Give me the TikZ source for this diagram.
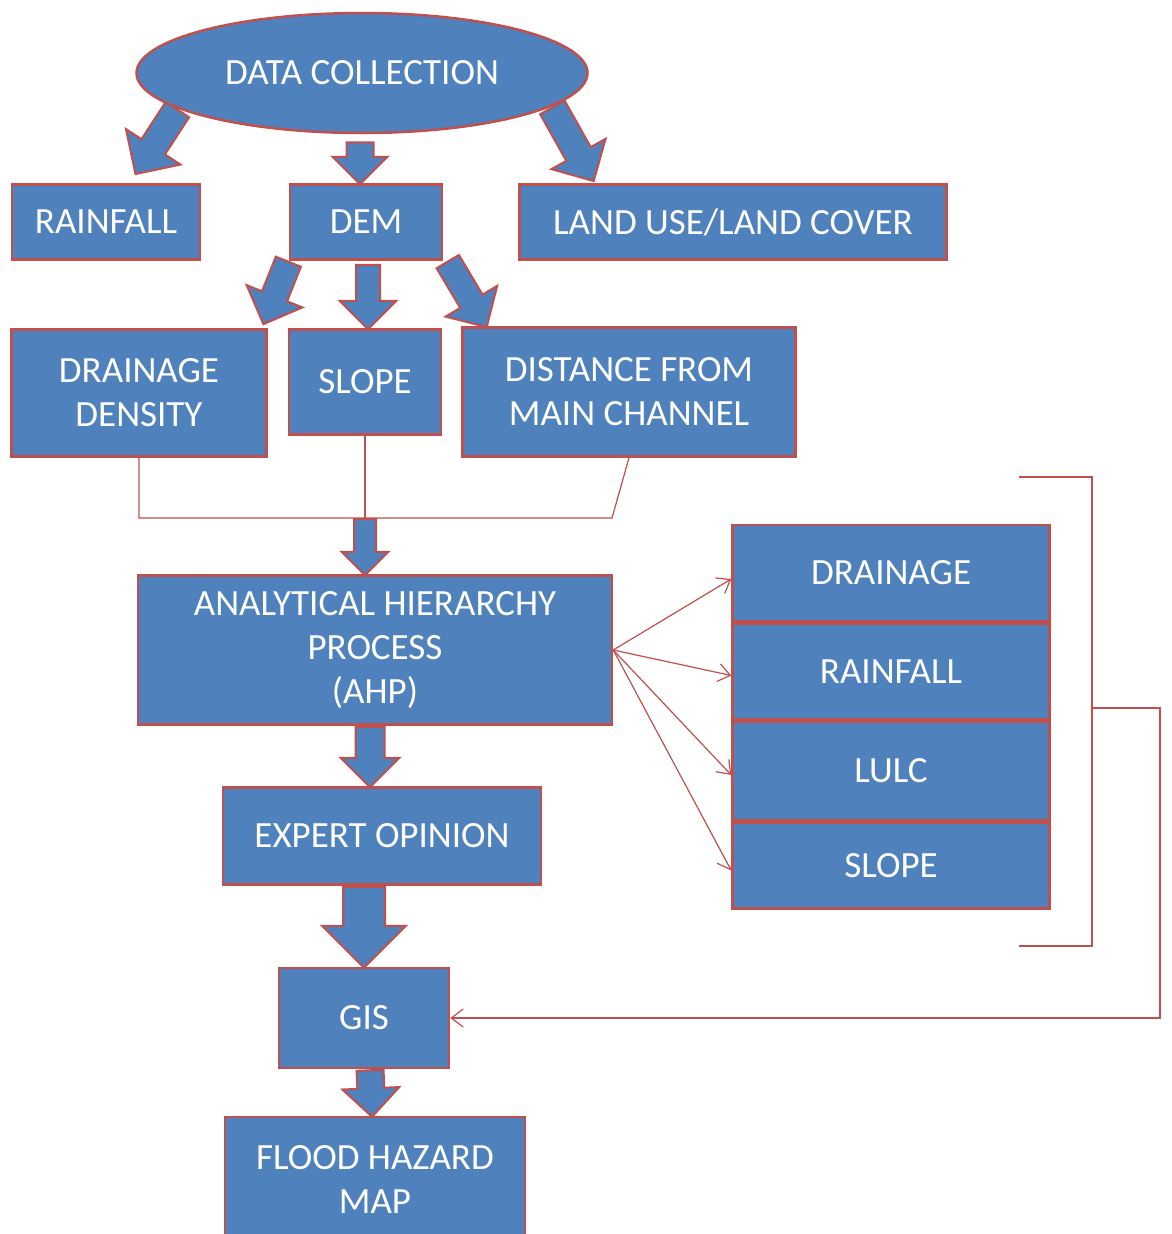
\documentclass[tikz,border=0pt]{standalone}
\usepackage{fontspec}
\setmainfont{Carlito}
\usepackage{tikz}
\usetikzlibrary{positioning, calc, arrows.meta, shapes.geometric, shapes.arrows}
\definecolor{boxblue}{HTML}{4F81BD}
\definecolor{edgered}{HTML}{C0504D}

% fat arrow: from, to, shaft width, head width
\newcommand{\fatarrow}[4]{%
	\pgfmathsetmacro{\halfshaft}{#3/2}%
	\pgfmathsetmacro{\headext}{(#4-#3)/2}%
	\path let \p1=#1, \p2=#2, \n1={atan2(\y2-\y1,\x2-\x1)}, \n2={veclen(\x2-\x1,\y2-\y1)} in
		node[blockarrow, rotate=\n1, minimum height=\n2, inner ysep=\halfshaft pt, single arrow head extend=\headext pt] at (\p1) {};%
}

\begin{document}
\begin{tikzpicture}[x=1pt, y=-1pt,
		box/.style={rectangle, draw=edgered, fill=boxblue, line width=2.5pt, text=white, align=center, inner sep=0pt, font=\fontsize{37}{44}\selectfont},
		blockarrow/.style={single arrow, draw=edgered, fill=boxblue, line width=2pt, inner xsep=0pt, minimum width=0pt, single arrow head indent=0pt, anchor=tail},
		link/.style={draw=edgered, line width=1.2pt},
		>={Straight Barb[length=12pt, width=18pt]}]
		\path[use as bounding box, fill=white] (0,0) rectangle (1171,1234);

		\node[box, ellipse, minimum width=451, minimum height=120]   (data)   at (362,73)   {DATA COLLECTION};
		\node[box, minimum width=188, minimum height=75]             (rain)   at (106,222)  {RAINFALL};
		\node[box, minimum width=152, minimum height=75]             (dem)    at (366,222)  {DEM};
		\node[box, minimum width=427, minimum height=75]             (lulc)   at (733,222)  {LAND USE/LAND COVER};
		\node[box, minimum width=255, minimum height=127]            (dd)     at (139,393)  {DRAINAGE\\DENSITY};
		\node[box, minimum width=152, minimum height=105]            (slope)  at (365,382)  {SLOPE};
		\node[box, minimum width=333, minimum height=129]            (dist)   at (629,392)  {DISTANCE FROM\\MAIN CHANNEL};
		\node[box, minimum width=474, minimum height=149]            (ahp)    at (375,650)  {ANALYTICAL HIERARCHY\\PROCESS\\(AHP)};
		\node[box, minimum width=318, minimum height=97]             (expert) at (382,836)  {EXPERT OPINION};
		\node[box, minimum width=170, minimum height=100]            (gis)    at (364,1018) {GIS};
		\node[box, minimum width=300, minimum height=124]            (flood)  at (375,1179) {FLOOD HAZARD\\MAP};

		% criteria stack
		\node[box, minimum width=317, minimum height=96]                      (sdrain) at (891,573) {DRAINAGE};
		\node[box, minimum width=317, minimum height=96, below=0pt of sdrain] (srain)  {RAINFALL};
		\node[box, minimum width=317, minimum height=98, below=0pt of srain]  (slulc)  {LULC};
		\node[box, minimum width=317, minimum height=86, below=0pt of slulc]  (sslope) {SLOPE};

		\coordinate (bend)  at (612,518);
		\coordinate (merge) at (slope.south |- bend);
		\coordinate (brtop) at (1019,477);
		\coordinate (brbot) at (1019,946);
		\coordinate (brmid) at (1092,708);
		\coordinate (back)  at (1160,1018);

		\draw[link] (dd.south) |- (bend) -- (dist.south);
		\draw[link] (slope.south) -- (merge);
		\foreach \n/\dy in {sdrain/6, srain/4, slulc/4, sslope/5}
			\draw[link, ->] (ahp.east) -- ($(\n.west)+(0,\dy)$);
		\draw[link] (brtop) -| (brmid |- brbot) -- (brbot);
		\draw[link, ->] (brmid) -| (back) -- (gis.east);

		\fatarrow{(data.191)}{($(rain.north)+(30,-10)$)}{26}{63}
		\fatarrow{($(data.south)+(-2,7)$)}{($(data.south |- dem.north)+(-2,0)$)}{25}{53}
		\fatarrow{(data.350)}{($(lulc.north west)+(75,-3)$)}{26}{60}
		\fatarrow{(dem.south west)}{($(dd.north east)+(-4,-5)$)}{25}{58}
		\fatarrow{($(dem.south)+(2,3)$)}{($(dem.south |- slope.north)+(2,0)$)}{22}{55}
		\fatarrow{($(dem.south east)+(4,0)$)}{($(dist.north west)+(25,0)$)}{24}{58}
		\fatarrow{(merge)}{(merge |- ahp.north)}{20}{45}
		\fatarrow{($(ahp.south)+(-5,0)$)}{($(expert.north)+(-12,0)$)}{27}{57}
		\fatarrow{(gis.north |- expert.south)}{(gis.north)}{40}{82}
		\fatarrow{($(gis.south)+(6,0)$)}{($(flood.north)+(-3,0)$)}{25}{55}
	\end{tikzpicture}
\end{document}
